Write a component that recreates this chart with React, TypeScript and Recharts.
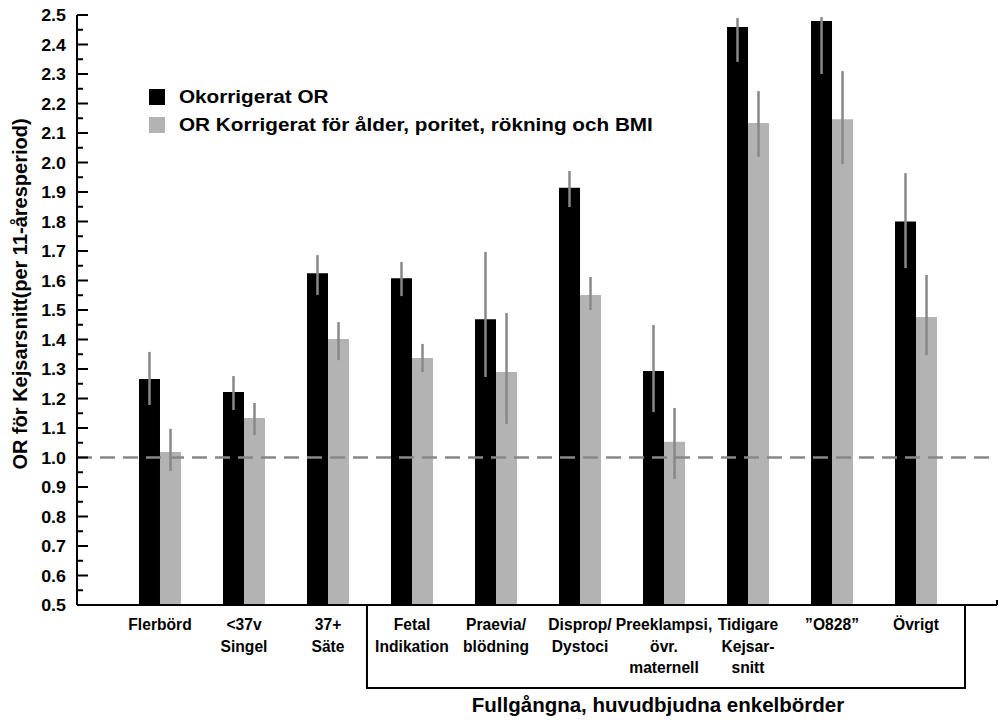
import React from 'react';
import { BarChart, Bar, XAxis, YAxis, ErrorBar, ReferenceLine, ReferenceArea } from 'recharts';

const categoryLines: string[][] = [
  ['Flerbörd'],
  ['<37v', 'Singel'],
  ['37+', 'Säte'],
  ['Fetal', 'Indikation'],
  ['Praevia/', 'blödning'],
  ['Disprop/', 'Dystoci'],
  ['Preeklampsi,', 'övr.', 'maternell'],
  ['Tidigare', 'Kejsar-', 'snitt'],
  ['\u201DO828\u201D'],
  ['Övrigt'],
];

const unadjOR = [1.266, 1.222, 1.625, 1.608, 1.469, 1.914, 1.293, 2.459, 2.48, 1.8];
const unadjLow = [1.178, 1.161, 1.551, 1.547, 1.273, 1.849, 1.154, 2.341, 2.3, 1.642];
const unadjHigh = [1.358, 1.276, 1.686, 1.663, 1.697, 1.971, 1.449, 2.49, 2.493, 1.964];
const adjOR = [1.019, 1.134, 1.402, 1.337, 1.29, 1.551, 1.053, 2.134, 2.147, 1.476];
const adjLow = [0.954, 1.076, 1.33, 1.29, 1.114, 1.5, 0.927, 2.019, 1.995, 1.347];
const adjHigh = [1.097, 1.185, 1.459, 1.385, 1.49, 1.612, 1.168, 2.242, 2.31, 1.619];

const majorTicks = [0.5, 0.6, 0.7, 0.8, 0.9, 1.0, 1.1, 1.2, 1.3, 1.4, 1.5, 1.6, 1.7, 1.8, 1.9, 2.0, 2.1, 2.2, 2.3, 2.4, 2.5];
const minorTicks = majorTicks.slice(0, -1).map((v, i) => (v + majorTicks[i + 1]) / 2);
const allTicks = [...majorTicks, ...minorTicks].sort((a, b) => a - b);

const seriesNames = ['Okorrigerat OR', 'OR Korrigerat för ålder, poritet, rökning och BMI'];
const seriesColors = ['#000000', '#b3b3b3'];
const groupTitle = 'Fullgångna, huvudbjudna enkelbörder';
const yLabel = 'OR för Kejsarsnitt(per 11-åresperiod)';

// x-axis domain in category-index units (category i sits at value i)
const xDomain: [number, number] = [-0.988, 9.964];
// bracket grouping the full-term categories, in category-index / OR units
const bracketX: [number, number] = [2.464, 9.583];
const bracketBottom = 0.219;
const axisEndTickTop = 0.517;

const categoryIndex = categoryLines.map((_, i) => i);

const data = categoryLines.map((lines, i) => ({
  idx: categoryIndex[i],
  name: lines.join(' '),
  unadj: unadjOR[i],
  unadjErr: [unadjOR[i] - unadjLow[i], unadjHigh[i] - unadjOR[i]],
  adj: adjOR[i],
  adjErr: [adjOR[i] - adjLow[i], adjHigh[i] - adjOR[i]],
}));

const FONT = '"Liberation Sans", Arial, Helvetica, sans-serif';

const YTick = (props: any) => {
  const { x, y, payload } = props;
  const v = payload.value;
  const isMajor = majorTicks.some((m) => Math.abs(m - v) < 1e-6);
  if (!isMajor) {
    return <line x1={x} x2={x + 6} y1={y} y2={y} stroke="#000" strokeWidth={2} />;
  }
  return (
    <g>
      <line x1={x} x2={x + 11} y1={y} y2={y} stroke="#000" strokeWidth={2} />
      <text
        transform={`translate(${x - 11} ${y + 6}) scale(1.05 1)`}
        x={0}
        y={0}
        textAnchor="end"
        fontFamily={FONT}
        fontWeight="bold"
        fontSize={17}
        fill="#000"
      >
        {v.toFixed(1)}
      </text>
    </g>
  );
};

const XTick = (props: any) => {
  const { x, y, payload } = props;
  const lines = categoryLines[Math.round(payload.value)] || [];
  return (
    <g>
      {lines.map((l: string, i: number) => (
        <text
          key={i}
          transform={`translate(${x} ${y + 25 + i * 21.5}) scale(0.92 1)`}
          x={0}
          y={0}
          textAnchor="middle"
          fontFamily={FONT}
          fontWeight="bold"
          fontSize={17}
          fill="#000"
        >
          {l}
        </text>
      ))}
    </g>
  );
};

const LegendBox = () => (
  <div style={{ position: 'absolute', left: 149, top: 83, fontFamily: FONT, fontWeight: 'bold', fontSize: 18, color: '#000' }}>
    {seriesNames.map((n, i) => (
      <div key={n} style={{ display: 'flex', alignItems: 'center', height: 28, whiteSpace: 'nowrap' }}>
        <div style={{ width: 16, height: 16, background: seriesColors[i], marginRight: 14, flex: 'none' }} />
        <span style={{ display: 'inline-block', transform: 'scaleX(1.15)', transformOrigin: 'left center' }}>{n}</span>
      </div>
    ))}
  </div>
);

export default function App() {
  return (
    <div style={{ position: 'absolute', left: 0, top: 0, width: 1003, height: 720, background: '#fff' }}>
      <BarChart
        width={1003}
        height={720}
        data={data}
        margin={{ top: 15, right: 6, left: 0, bottom: 0 }}
        barGap={0}
        barCategoryGap="25%"
      >
        <XAxis
          type="number"
          dataKey="idx"
          domain={xDomain}
          allowDataOverflow
          ticks={categoryIndex}
          interval={0}
          height={115}
          axisLine={{ stroke: '#000', strokeWidth: 2 }}
          tickLine={false}
          tickSize={0}
          tickMargin={0}
          tick={<XTick />}
          label={() => (
            <text x={658} y={712} textAnchor="middle" fontFamily={FONT} fontWeight="bold" fontSize={20.5} fill="#000">
              {groupTitle}
            </text>
          )}
        />
        <YAxis
          type="number"
          width={77}
          domain={[0.5, 2.5]}
          allowDataOverflow
          ticks={allTicks}
          interval={0}
          tick={<YTick />}
          tickLine={false}
          tickSize={0}
          tickMargin={0}
          axisLine={{ stroke: '#000', strokeWidth: 2 }}
          label={() => (
            <text
              x={27}
              y={294}
              transform="rotate(-90 27 294)"
              textAnchor="middle"
              fontFamily={FONT}
              fontWeight="bold"
              fontSize={20}
              fill="#000"
            >
              {yLabel}
            </text>
          )}
        />
        <ReferenceArea
          x1={bracketX[0]}
          x2={bracketX[1]}
          y1={0.5}
          y2={bracketBottom}
          ifOverflow="visible"
          fill="none"
          fillOpacity={0}
          stroke="#000"
          strokeWidth={2}
        />
        <ReferenceLine
          segment={[{ x: xDomain[1], y: 0.5 }, { x: xDomain[1], y: axisEndTickTop }]}
          ifOverflow="visible"
          stroke="#000"
          strokeWidth={2}
        />
        <Bar dataKey="unadj" name={seriesNames[0]} fill={seriesColors[0]} barSize={21} isAnimationActive={false}>
          <ErrorBar dataKey="unadjErr" width={0} stroke="#888" strokeWidth={2.5} />
        </Bar>
        <Bar dataKey="adj" name={seriesNames[1]} fill={seriesColors[1]} barSize={21} isAnimationActive={false}>
          <ErrorBar dataKey="adjErr" width={0} stroke="#888" strokeWidth={2.5} />
        </Bar>
        <ReferenceLine y={1} stroke="#888" strokeWidth={2.5} strokeDasharray="15 8" />
      </BarChart>
      <LegendBox />
    </div>
  );
}
